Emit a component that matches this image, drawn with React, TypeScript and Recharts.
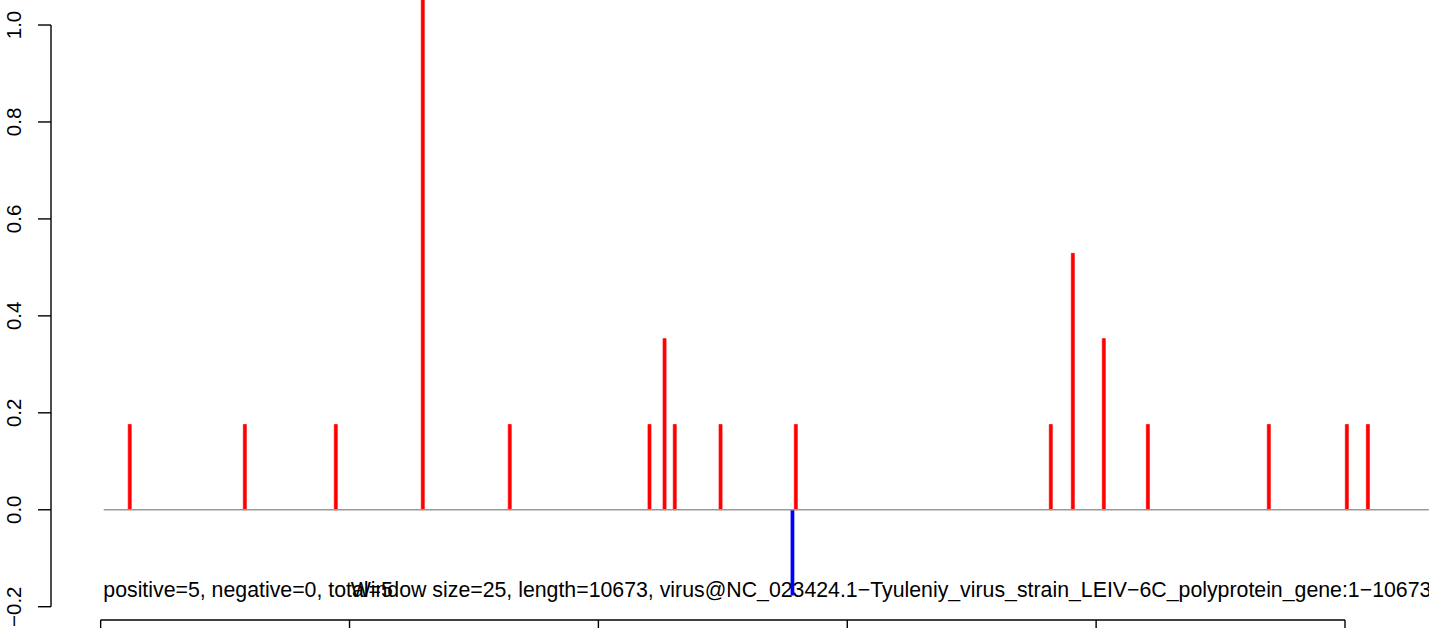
import React from "react";
import {
  ComposedChart,
  Bar,
  Cell,
  XAxis,
  YAxis,
  ReferenceLine,
  Customized,
} from "recharts";

// window positions along the genome and their scores
const positions = [235, 1160, 1891, 2590, 3289, 4412, 4533, 4615, 4983, 5561, 5588, 7637, 7814, 8063, 8417, 9389, 10016, 10185];
const scores = [0.176, 0.176, 0.176, 1.118, 0.176, 0.176, 0.353, 0.176, 0.176, -0.176, 0.176, 0.176, 0.529, 0.353, 0.176, 0.176, 0.176, 0.176];

const xTicks = [0, 2000, 4000, 6000, 8000, 10000];
const yTicks = [-0.2, 0, 0.2, 0.4, 0.6, 0.8, 1.0];

const X_MIN = -399;
const X_MAX = 10675;
const Y_MIN = -0.2274;
const Y_MAX = 1.0516;
const WINDOW_START = 25;
const SEQ_LENGTH = 10673;

const summaryText = "positive=5, negative=0, total=5";
const titleText =
  "Window size=25, length=10673, virus@NC_023424.1\u2212Tyuleniy_virus_strain_LEIV\u22126C_polyprotein_gene:1\u221210673";

const data = positions.map((pos, i) => ({ pos, score: scores[i] }));

const FONT = '"Liberation Sans", Arial, Helvetica, sans-serif';

const YTick = (props: any) => {
  const { x, y, payload } = props;
  const label = Number(payload.value).toFixed(1).replace("-", "\u2212");
  return (
    <text
      x={x}
      y={y}
      transform={`rotate(-90 ${x} ${y})`}
      textAnchor="middle"
      fontSize={20.5}
      fontFamily={FONT}
      fill="#000"
    >
      {label}
    </text>
  );
};

const Notes = () => (
  <g fontFamily={FONT} fontSize={21.3} fill="#000">
    <text x={103.3} y={597}>{summaryText}</text>
    <text x={350.7} y={597}>{titleText}</text>
  </g>
);

export default function App() {
  return (
    <div style={{ position: "absolute", left: 0, top: 0, background: "#fff" }}>
      <ComposedChart
        width={1429}
        height={628}
        data={data}
        margin={{ top: 0, right: 0, bottom: 0, left: 0 }}
      >
        <XAxis
          dataKey="pos"
          type="number"
          domain={[X_MIN, X_MAX]}
          ticks={xTicks}
          allowDataOverflow
          axisLine={false}
          tickLine={{ stroke: "#000", strokeWidth: 1.4 }}
          tickSize={10}
          tick={() => <g />}
          height={8}
        />
        <YAxis
          type="number"
          domain={[Y_MIN, Y_MAX]}
          ticks={yTicks}
          allowDataOverflow
          axisLine={false}
          tickLine={{ stroke: "#000", strokeWidth: 1.4 }}
          tickSize={13}
          tickMargin={17}
          tick={<YTick />}
          width={51}
        />
        <ReferenceLine
          segment={[
            { x: WINDOW_START, y: 0 },
            { x: SEQ_LENGTH, y: 0 },
          ]}
          stroke="#999"
          strokeWidth={1.6}
        />
        <ReferenceLine
          segment={[
            { x: X_MIN, y: yTicks[0] },
            { x: X_MIN, y: yTicks[yTicks.length - 1] },
          ]}
          stroke="#000"
          strokeWidth={1.4}
        />
        <ReferenceLine
          segment={[
            { x: xTicks[0], y: Y_MIN },
            { x: xTicks[xTicks.length - 1], y: Y_MIN },
          ]}
          stroke="#000"
          strokeWidth={1.4}
        />
        <Bar dataKey="score" barSize={4} isAnimationActive={false}>
          {data.map((d, i) => {
            const c = d.score < 0 ? "#0000ff" : "#ff0000";
            return <Cell key={i} fill={c} stroke={c} strokeWidth={0.7} />;
          })}
        </Bar>
        <Customized component={Notes} />
      </ComposedChart>
    </div>
  );
}
